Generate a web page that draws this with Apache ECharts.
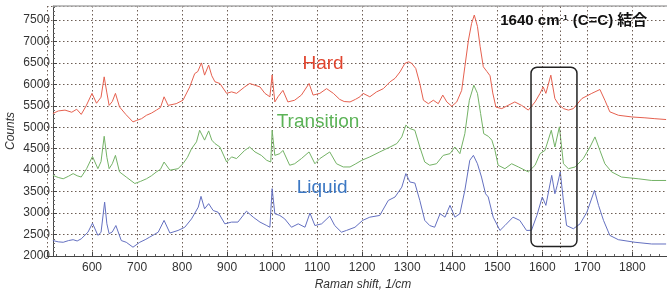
<!DOCTYPE html>
<html lang="en">
<head>
    <meta charset="UTF-8">
    <title>Raman spectra</title>
    <script src="https://cdn.jsdelivr.net/npm/echarts@6/dist/echarts.min.js"></script>
    <style>
        html, body { margin: 0; padding: 0; background: #fff; }
        #chart { width: 667px; height: 291px; }
    </style>
</head>
<body>
    <div id="chart"></div>
    <script>
        // Raman shift (1/cm) and counts
        var hardX = [513, 525, 540, 555, 566, 576, 587, 600, 610, 620, 627, 633, 638, 645, 652, 661, 675, 691, 699, 710,
            721, 732, 743, 752, 760, 769, 787, 802, 817, 828, 835, 843, 850, 859, 866, 873, 884, 899, 910, 921,
            939, 950, 962, 973, 984, 995, 1000, 1006, 1013, 1024, 1035, 1050, 1065, 1082, 1091, 1106, 1121, 1136, 1150, 1160,
            1173, 1185, 1195, 1202, 1217, 1232, 1247, 1262, 1273, 1284, 1295, 1303, 1310, 1319, 1328, 1336, 1347, 1358, 1369, 1379,
            1388, 1399, 1410, 1421, 1428, 1436, 1443, 1449, 1456, 1462, 1469, 1477, 1484, 1490, 1497, 1510, 1524, 1539, 1554, 1569,
            1584, 1595, 1602, 1608, 1619, 1628, 1635, 1647, 1658, 1669, 1688, 1710, 1728, 1739, 1750, 1769, 1799, 1828, 1850, 1875];
        var hardY = [5320, 5380, 5400, 5350, 5420, 5300, 5500, 5790, 5560, 5700, 6175, 5800, 5510, 5600, 5790, 5475, 5300, 5125, 5160, 5200,
            5280, 5330, 5400, 5460, 5710, 5510, 5550, 5630, 5940, 6250, 6300, 6500, 6215, 6450, 6200, 6060, 6020, 5790, 5825, 5790,
            5940, 6020, 5980, 5940, 5790, 5710, 6220, 5590, 5710, 5860, 5590, 5630, 5750, 6020, 5750, 5790, 5900, 5790, 5650, 5600,
            5590, 5650, 5710, 5790, 5710, 5825, 5900, 6060, 6140, 6290, 6490, 6525, 6490, 6370, 6020, 5630, 5550, 5630, 5550, 5750,
            5590, 5490, 5590, 5860, 6410, 7030, 7420, 7615, 7350, 6880, 6410, 6300, 6200, 5800, 5470, 5435, 5510, 5590, 5510, 5400,
            5590, 5790, 5940, 5790, 6215, 5670, 5550, 5435, 5400, 5435, 5670, 5790, 5880, 5630, 5360, 5280, 5240, 5220, 5200, 5180];

        var transX = [513, 525, 536, 548, 558, 567, 576, 588, 601, 613, 620, 627, 633, 638, 645, 652, 661, 676, 695, 708,
            721, 732, 743, 752, 760, 773, 791, 802, 812, 821, 832, 839, 843, 850, 859, 866, 873, 884, 899, 910,
            921, 939, 950, 962, 976, 988, 997, 1000, 1006, 1017, 1024, 1039, 1050, 1065, 1082, 1095, 1106, 1128, 1143, 1158,
            1173, 1186, 1199, 1217, 1239, 1262, 1277, 1288, 1297, 1306, 1317, 1328, 1339, 1350, 1365, 1380, 1395, 1406, 1417, 1428,
            1438, 1448, 1456, 1463, 1470, 1480, 1488, 1495, 1502, 1517, 1532, 1547, 1569, 1584, 1595, 1606, 1620, 1628, 1638, 1647,
            1658, 1673, 1691, 1706, 1717, 1728, 1739, 1754, 1776, 1813, 1843, 1875];
        var transY = [3880, 3830, 3800, 3860, 3920, 3870, 3840, 4035, 4320, 4035, 4200, 4790, 4300, 4035, 4150, 4345, 3960, 3840, 3690, 3740,
            3800, 3870, 3960, 4020, 4190, 4000, 4035, 4150, 4300, 4500, 4660, 4930, 4970, 4700, 4915, 4700, 4620, 4540, 4190, 4310,
            4270, 4460, 4540, 4425, 4345, 4230, 4190, 4930, 4345, 4385, 4460, 4115, 4150, 4270, 4425, 4150, 4270, 4425, 4150, 4075,
            4075, 4150, 4230, 4310, 4425, 4540, 4620, 4775, 5050, 4970, 4930, 4540, 4190, 4115, 4150, 4345, 4385, 4540, 4385, 4850,
            5630, 5980, 5790, 5320, 4850, 4790, 4700, 4460, 4115, 4035, 4150, 4075, 3960, 4115, 4385, 4460, 4930, 4540, 5010, 4150,
            4035, 4075, 4270, 4540, 4775, 4460, 4150, 3960, 3840, 3800, 3760, 3760];

        var liqX = [513, 525, 536, 548, 558, 567, 576, 591, 601, 613, 620, 628, 633, 638, 645, 653, 665, 676, 691, 706,
            718, 728, 738, 747, 760, 773, 791, 806, 821, 836, 842, 850, 859, 869, 880, 895, 910, 924, 943, 958,
            973, 988, 995, 1000, 1006, 1017, 1028, 1043, 1058, 1073, 1084, 1095, 1110, 1128, 1139, 1154, 1165, 1184, 1201, 1217,
            1239, 1258, 1273, 1288, 1297, 1306, 1317, 1328, 1339, 1350, 1361, 1373, 1384, 1395, 1406, 1417, 1428, 1439, 1447, 1456,
            1465, 1474, 1480, 1491, 1506, 1517, 1535, 1550, 1565, 1576, 1588, 1600, 1608, 1621, 1628, 1633, 1640, 1646, 1654, 1669,
            1684, 1699, 1716, 1725, 1736, 1750, 1769, 1806, 1843, 1875];
        var liqY = [2360, 2330, 2320, 2360, 2380, 2350, 2400, 2555, 2765, 2480, 2550, 3255, 2750, 2520, 2560, 2710, 2360, 2320, 2205, 2320,
            2380, 2440, 2500, 2555, 2830, 2535, 2595, 2670, 2865, 3140, 3390, 3100, 3220, 3060, 3020, 2750, 2790, 2790, 3045, 2905,
            2790, 2710, 2670, 3570, 2985, 2945, 2865, 2670, 2750, 2670, 3000, 2710, 2750, 2930, 2710, 2555, 2595, 2670, 2830, 2905,
            2945, 3295, 3375, 3605, 3920, 3725, 3700, 3295, 2830, 2710, 2670, 2985, 2905, 3180, 2905, 2985, 3530, 4230, 4345, 4150,
            3840, 3450, 3375, 2905, 2595, 2710, 2905, 2830, 2595, 2600, 2945, 3375, 3180, 3880, 3450, 3640, 3960, 3375, 2710, 2635,
            2750, 3020, 3530, 3180, 2830, 2480, 2380, 2320, 2280, 2280];

        var seriesNames = ['Hard', 'Transition', 'Liquid'];
        var seriesColors = ['#e5604f', '#74b266', '#6470c0'];
        var labelColors = ['#e0442e', '#5cb357', '#3c78c4'];

        function pairs(xs, ys) {
            return xs.map(function (x, i) { return [x, ys[i]]; });
        }

        var chart = echarts.init(document.getElementById('chart'));
        var gridLine = { show: true, lineStyle: { color: '#6e5e55', type: [1.5, 2.5], width: 1 } };
        var font = 'Liberation Sans, Arial, sans-serif';

        var series = [pairs(hardX, hardY), pairs(transX, transY), pairs(liqX, liqY)].map(function (d, i) {
            return {
                name: seriesNames[i],
                type: 'line',
                data: d,
                symbol: 'none',
                lineStyle: { color: seriesColors[i], width: 1 },
                z: 3
            };
        });
        // dotted marker at 1640 cm-1
        series[0].markLine = {
            silent: true,
            symbol: 'none',
            label: { show: false },
            lineStyle: { color: '#6e5e55', type: [1.5, 2.5], width: 1 },
            data: [{ xAxis: 1640 }]
        };

        // axis starts at 500 so ticks land on hundreds; the y axis is
        // shifted right onto 513, where the spectra begin
        chart.setOption({
            animation: false,
            textStyle: { fontFamily: font },
            grid: { left: 47, right: 0, top: 6, bottom: 35, outerBoundsMode: 'none', containLabel: false },
            xAxis: {
                type: 'value',
                min: 500,
                max: 1877,
                interval: 100,
                name: 'Raman shift, 1/cm',
                nameLocation: 'middle',
                nameGap: 21,
                nameTextStyle: { fontStyle: 'italic', fontSize: 12, color: '#333', padding: [0, 0, 0, 12] },
                axisLine: { lineStyle: { color: '#444' } },
                axisTick: { inside: true, length: 4, lineStyle: { color: '#444' } },
                minorTick: { show: true, splitNumber: 5, length: 2, lineStyle: { color: '#666' } },
                axisLabel: {
                    fontSize: 12, color: '#333', margin: 6,
                    formatter: function (v) { return (v % 100 === 0 && v >= 600) ? String(v) : ''; }
                },
                splitLine: gridLine
            },
            yAxis: {
                type: 'value',
                min: 2000,
                max: 7826,
                interval: 500,
                offset: -6,
                name: 'Counts',
                nameLocation: 'middle',
                nameGap: 36,
                nameMoveOverlap: false,
                nameTextStyle: { fontStyle: 'italic', fontSize: 12, color: '#333' },
                axisLine: { show: true, lineStyle: { color: '#444' } },
                axisTick: { show: true, inside: true, length: 4, lineStyle: { color: '#444' } },
                minorTick: { show: true, splitNumber: 5, length: 2, lineStyle: { color: '#666' } },
                axisLabel: {
                    fontSize: 12, color: '#333', margin: 3,
                    formatter: function (v) { return v % 500 === 0 ? String(v) : ''; }
                },
                splitLine: gridLine
            },
            series: series
        });

        // annotations placed in data coordinates
        function px(pt) { return chart.convertToPixel({ gridIndex: 0 }, pt); }
        var boxTL = px([1575, 6400]);
        var boxBR = px([1677, 2222]);
        var labelPos = [[1113, 6470], [1102, 5120], [1111, 3580]];
        var texts = seriesNames.map(function (n, i) {
            var p = px(labelPos[i]);
            return {
                type: 'text', x: p[0], y: p[1], z: 10,
                style: { text: n, fill: labelColors[i], font: '19px ' + font, align: 'center', verticalAlign: 'middle' }
            };
        });
        var title = px([1670, 7470]);
        var topL = px([513, 7826]);
        var topR = px([1877, 7826]);
        chart.setOption({
            graphic: texts.concat([
                {
                    type: 'line', z: 4,
                    shape: { x1: topL[0], y1: topL[1], x2: topR[0], y2: topR[1] },
                    style: { stroke: '#aaa', lineWidth: 1.5 }
                },
                {
                    type: 'rect', z: 10,
                    shape: { x: boxTL[0], y: boxTL[1], width: boxBR[0] - boxTL[0], height: boxBR[1] - boxTL[1], r: 6 },
                    style: { fill: 'none', stroke: '#222', lineWidth: 1.5 }
                },
                {
                    type: 'text', x: title[0], y: title[1], z: 10,
                    style: {
                        text: '{b|1640 cm}{s|-1}{b| (C=C) 結合}',
                        align: 'center', verticalAlign: 'middle',
                        rich: {
                            b: { font: 'bold 15px ' + font + ', Noto Sans CJK JP', fill: '#111' },
                            s: { font: 'bold 8px ' + font, fill: '#111', verticalAlign: 'top', padding: [0, 1, 7, 1] }
                        }
                    }
                }
            ])
        });
    </script>
</body>
</html>
